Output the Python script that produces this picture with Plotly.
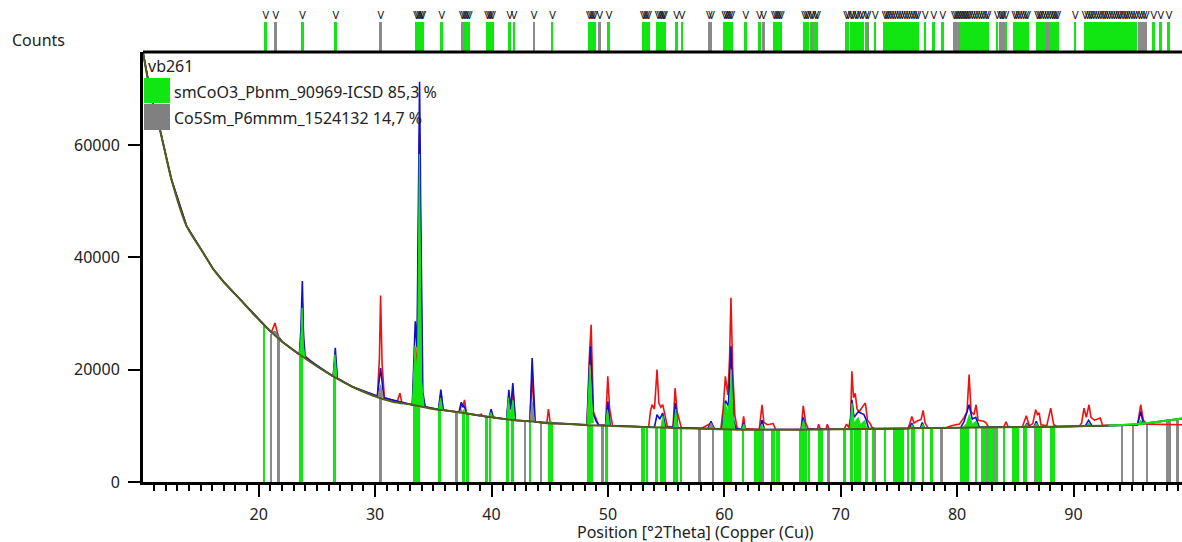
import plotly.graph_objects as go

# ---------------- data ----------------
# background curve
bg_x = [10.06, 10.2, 10.8, 11.5, 12.5, 13.8, 15.2, 16.1, 17.0, 18.4, 19.5, 20.7, 22.0, 23.5, 25.0,
        26.4, 28.0, 29.8, 31.5, 33.2, 35.0, 36.7, 38.5, 40.1, 42.0, 43.5, 45.0, 46.4, 48.0, 50.0,
        53.0, 56.1, 59.0, 61.9, 65.0, 68.0, 72.0, 76.0, 80.0, 84.0, 88.0, 91.0, 93.0, 95.0, 97.0, 99.32]
bg_y = [76500, 74800, 68300, 62900, 53900, 45600, 40900, 37900, 35600, 32500, 30000, 27450, 25000, 22700, 20600,
        18800, 17000, 15400, 14300, 13750, 13000, 12560, 12000, 11490, 11000, 10770, 10450, 10360, 10150, 10000,
        9800, 9590, 9450, 9290, 9300, 9350, 9450, 9550, 9650, 9750, 9850, 9950, 10050, 10250, 10650, 11300]

# observed counts (red)
obs_x = [10.06, 10.2, 10.8, 11.5, 12.5, 13.8, 15.2, 16.1, 17.0, 18.4, 19.5, 20.7, 21.1, 21.4, 21.7, 22.0,
         23.5, 23.65, 23.75, 23.9, 25.0, 26.4, 26.58, 26.75, 28.0, 29.8, 30.2, 30.37, 30.47, 30.6, 30.8,
         31.9, 32.13, 32.3, 33.2, 33.45, 33.6, 33.82, 34.05, 34.3, 35.45, 35.65, 35.85, 37.25, 37.45, 37.55,
         37.68, 37.85, 38.95, 39.11, 39.25, 39.8, 39.97, 40.15, 41.3, 41.49, 41.65, 41.83, 42.05, 43.3, 43.49,
         43.7, 44.75, 44.89, 45.05, 46.4, 48.2, 48.4, 48.56, 48.75, 49.0, 49.2, 49.8, 49.99, 50.15, 50.4,
         53.5, 53.65, 53.79, 54.0, 54.22, 54.38, 54.55, 54.71, 54.9, 55.1, 55.6, 55.77, 55.95, 56.3, 58.0,
         58.86, 59.2, 59.7, 59.9, 60.09, 60.3, 60.45, 60.57, 60.72, 60.9, 61.1, 61.5, 61.66, 61.8, 63.0,
         63.24, 63.4, 63.7, 64.2, 64.4, 66.6, 66.78, 67.0, 67.2, 68.0, 68.1, 68.25, 68.75, 68.85, 69.0,
         70.3, 70.5, 70.7, 70.85, 70.96, 71.1, 71.25, 71.4, 71.6, 71.9, 72.12, 72.3, 72.5, 72.7, 73.0,
         75.8, 76.11, 76.3, 76.6, 76.9, 77.08, 77.25, 77.5, 79.0, 79.5, 80.2, 80.6, 80.85, 81.03, 81.2,
         81.45, 81.63, 81.8, 82.3, 82.5, 82.7, 84.0, 84.2, 84.4, 85.6, 85.95, 86.2, 86.5, 86.75, 86.9,
         87.05, 87.2, 87.7, 88.04, 88.3, 88.6, 90.5, 90.7, 90.9, 91.1, 91.33, 91.5, 91.8, 92.3, 92.5,
         95.5, 95.77, 96.0, 96.3, 97.0, 99.32]
obs_y = [76500, 74800, 68300, 62900, 53900, 45600, 40900, 37900, 35600, 32500, 30000, 27450, 26700, 28300, 25800, 25000,
         22700, 26000, 32000, 22600, 20600, 18800, 22300, 18500, 17000, 15400, 15300, 22000, 33200, 21000, 15000,
         14300, 15800, 14100, 13750, 24000, 18000, 62000, 15000, 13400, 12900, 15900, 12800, 12400, 14000, 13500,
         14600, 12200, 11800, 12100, 11750, 11550, 12400, 11500, 11150, 15300, 12800, 16300, 11000, 10800, 19000,
         10700, 10450, 12980, 10400, 10360, 10200, 22000, 28000, 12500, 11000, 10150, 10100, 18800, 13000, 10050,
         9800, 12500, 13750, 13000, 20000, 14000, 13300, 13750, 12000, 9900, 9750, 16700, 12500, 9700, 9500,
         10500, 9450, 9450, 13000, 18800, 15500, 22000, 32800, 20000, 12000, 9600, 9350, 11670, 9500, 9350,
         13750, 10600, 10200, 10400, 9400, 9350, 13570, 10500, 9500, 9350, 10300, 9400, 9400, 10300, 9400,
         9400, 10300, 9700, 11500, 19700, 15000, 15800, 13000, 12500, 13500, 14050, 11000, 10500, 9700, 9450,
         9550, 11670, 10500, 10900, 11100, 12730, 10500, 9600, 9600, 10000, 10300, 11500, 12500, 19110, 12500,
         12000, 13750, 11000, 10800, 10500, 9750, 9750, 10700, 9750, 9800, 11790, 10000, 10400, 12860, 12000,
         12300, 10200, 10000, 13160, 10200, 9850, 9950, 10500, 13160, 11500, 13750, 11500, 11000, 11400, 10050,
         10150, 13750, 11000, 10300, 10250, 10200]

# calculated profile (blue)
calc_x = [10.06, 10.2, 10.8, 11.5, 12.5, 13.8, 15.2, 16.1, 17.0, 18.4, 19.5, 20.7, 21.1, 21.4, 21.7, 22.0,
          23.5, 23.62, 23.75, 23.85, 24.0, 26.4, 26.58, 26.75, 28.0, 30.2, 30.47, 30.75, 33.2, 33.45, 33.6,
          33.82, 33.92, 34.1, 34.3, 35.45, 35.65, 35.85, 37.2, 37.4, 37.55, 37.65, 37.85, 39.8, 39.97, 40.15,
          41.3, 41.49, 41.65, 41.83, 42.05, 43.3, 43.49, 43.75, 46.4, 48.2, 48.5, 48.75, 49.0, 49.2, 49.8,
          49.99, 50.2, 54.0, 54.22, 54.45, 54.71, 54.95, 55.6, 55.8, 56.0, 58.6, 58.86, 59.1, 59.8, 60.1,
          60.35, 60.57, 60.8, 61.0, 61.5, 61.66, 61.8, 63.05, 63.24, 63.45, 66.6, 66.78, 67.0, 70.8, 70.96,
          71.15, 71.5, 72.0, 72.2, 72.4, 75.9, 76.1, 76.3, 76.85, 77.0, 77.2, 80.3, 80.6, 81.03, 81.3,
          81.6, 81.9, 85.8, 86.0, 86.2, 86.6, 86.8, 87.0, 91.0, 91.3, 91.6, 95.5, 95.77, 96.0, 97.0, 99.32]
calc_y = [76500, 74800, 68300, 62900, 53900, 45600, 40900, 37900, 35600, 32500, 30000, 27450, 26600, 26700, 25800, 25000,
          22700, 27000, 35770, 26000, 22200, 18800, 23870, 18500, 17000, 15300, 20300, 15000, 13750, 28600, 24000,
          71250, 48000, 16000, 13400, 12900, 16430, 12800, 12400, 14200, 13300, 13600, 12200, 11550, 12980, 11500,
          11150, 16430, 13000, 17630, 11000, 10800, 22090, 10700, 10360, 10200, 24160, 12000, 10800, 10150, 10100,
          14340, 10050, 9750, 12000, 11200, 12270, 9800, 9750, 14050, 9700, 9500, 10800, 9450, 9450, 14500,
          13500, 24160, 11000, 9500, 9350, 10500, 9350, 9350, 11000, 9400, 9350, 11500, 9400, 9400, 14640,
          11500, 12500, 12000, 11000, 9500, 9550, 10500, 9600, 9600, 10600, 9600, 9650, 10800, 13750, 11200,
          11500, 9800, 9800, 10400, 9800, 9800, 10800, 9800, 9950, 11000, 9950, 10150, 12560, 10350, 10650, 11300]

# phase 1 (smCoO3) profile above background, peaks separated by None
ph1_x = [23.5, 23.62, 23.73, 23.85, 24.0, None,
         26.4, 26.55, 26.72, None,
         33.2, 33.42, 33.55, 33.66, 33.8, 33.88, 34.0, 34.2, None,
         35.45, 35.62, 35.8, None,
         37.5, 37.62, 37.75, 37.9, 38.05, None,
         39.8, 39.95, 40.1, None,
         41.3, 41.45, 41.6, 41.85, 42.0, None,
         44.95, 45.1, 45.25, None,
         48.2, 48.3, 48.45, 48.6, 48.75, None,
         49.8, 49.95, 50.15, None,
         54.55, 54.72, 54.9, None,
         55.65, 55.82, 56.0, None,
         59.85, 60.05, 60.3, 60.5, 60.6, 60.75, 60.9, None,
         61.5, 61.68, 61.85, None,
         63.05, 63.2, 63.35, None,
         66.6, 66.8, 67.0, None,
         70.8, 70.96, 71.15, 71.5, 71.7, 72.05, 72.25, None,
         76.0, 76.12, 76.3, None,
         76.9, 77.05, 77.2, None,
         80.5, 80.8, 81.05, 81.3, 81.6, 81.85, None,
         85.85, 86.0, 86.15, None,
         86.6, 86.8, 87.0, None,
         91.1, 91.3, 91.5, None,
         95.55, 95.77, 96.0]
ph1_y = [22700, 25500, 31010, 24000, 22200, None,
         18800, 22680, 18550, None,
         13750, 24160, 20000, 24000, 58400, 40000, 18000, 13450, None,
         12900, 14950, 12850, None,
         12200, 12900, 12300, 12500, 12100, None,
         11550, 12400, 11500, None,
         11150, 15000, 12000, 14500, 11000, None,
         10450, 10900, 10400, None,
         10200, 14000, 20890, 15000, 10500, None,
         10100, 12860, 10050, None,
         9750, 11800, 9700, None,
         9700, 13000, 9650, None,
         9450, 14050, 12500, 15000, 20000, 12000, 9400, None,
         9350, 10300, 9350, None,
         9350, 10300, 9350, None,
         9350, 11000, 9350, None,
         9400, 14000, 10500, 11500, 10200, 11000, 9450, None,
         9550, 10200, 9550, None,
         9550, 10300, 9550, None,
         9650, 10400, 12000, 10300, 10800, 9700, None,
         9800, 10300, 9800, None,
         9800, 10500, 9800, None,
         9950, 10500, 9950, None,
         10200, 11000, 10350]

# phase 2 (Co5Sm) profile above background
ph2_x = [21.0, 21.25, 21.45, 21.65, 21.8, None,
         30.25, 30.47, 30.7, None,
         37.2, 37.4, 37.6, None,
         43.3, 43.49, 43.7, None,
         58.65, 58.86, 59.1, None,
         63.2, 63.38, 63.55]
ph2_y = [26800, 26700, 26600, 26000, 25600, None,
         15250, 17300, 15050, None,
         12400, 12900, 12200, None,
         10800, 14300, 10700, None,
         9500, 10500, 9450, None,
         9300, 9800, 9300]

# reflection sticks (bottom): positions and heights
stick1_pos = [20.46, 23.60, 23.72, 26.52, 33.39, 33.53, 33.76, 35.54, 37.62, 37.97, 39.60, 39.91, 41.40, 41.83,
              43.35, 44.98, 45.18, 48.35, 48.47, 48.64, 49.90, 52.94, 53.13, 53.37, 54.19, 54.57, 54.76, 54.88,
              55.71, 55.91, 56.28, 60.00, 60.15, 60.37, 60.58, 61.63, 62.66, 62.86, 63.00, 63.15, 64.12, 64.29,
              64.55, 64.72, 66.58, 66.78, 67.01, 67.30, 68.15, 68.39, 70.36, 70.96, 71.30, 71.50, 71.64, 72.22,
              72.79, 73.82, 74.59, 74.74, 74.88, 75.02, 75.17, 75.39, 75.82, 76.16, 76.31, 77.08, 77.83, 80.40,
              80.60, 80.80, 80.97, 81.63, 82.20, 82.38, 82.75, 82.98, 83.41, 84.04, 84.81, 85.04, 85.24, 85.75,
              85.95, 86.84, 87.04, 87.24, 88.12, 88.33]
stick1_top = [27850, 22500, 22350, 18650, 13650, 13600, 13500, 12850, 12200, 12100, 11600, 11500, 11150, 11050,
              10750, 10450, 10450, 10150, 10150, 10100, 10000, 9800, 9800, 9800, 9750, 9750, 9700, 9700,
              9650, 9650, 9600, 9400, 9400, 9400, 9400, 9300, 9300, 9300, 9300, 9300, 9300, 9300,
              9300, 9300, 9300, 9300, 9300, 9300, 9350, 9350, 9400, 9400, 9400, 9400, 9400, 9450,
              9450, 9500, 9500, 9500, 9500, 9500, 9500, 9500, 9550, 9550, 9550, 9550, 9600, 9650,
              9650, 9650, 9650, 9650, 9700, 9700, 9700, 9700, 9700, 9750, 9750, 9750, 9750, 9750,
              9750, 9800, 9800, 9800, 9850, 9850]
stick2_pos = [21.09, 21.72, 30.47, 37.02, 42.92, 44.27, 49.55, 57.91, 59.06, 63.35, 68.96, 72.96, 78.69, 82.60,
              83.18, 86.70, 94.19, 95.13, 96.33, 98.05, 98.28, 98.97]
stick2_top = [26300, 25700, 15250, 12400, 10800, 10550, 10050, 9500, 9450, 9300, 9400, 9450, 9600, 9700,
              9700, 9800, 9950, 10180, 10480, 10770, 10850, 10950]

# reference marks in the top strip
strip1_pos = [20.6, 23.77, 26.63, 33.55, 33.7, 33.85, 34.0, 34.1, 35.72, 37.65, 37.8, 37.95, 38.1, 39.65, 39.8,
              39.95, 40.1, 41.57, 41.94, 45.24, 48.4, 48.55, 48.7, 48.85, 50.09, 53.05, 53.2, 53.35, 53.5, 54.3,
              54.45, 54.6, 54.75, 54.87, 55.9, 56.37, 60.05, 60.2, 60.35, 60.5, 60.65, 61.84, 63.03, 64.3, 64.45,
              64.6, 64.75, 64.9, 66.9, 67.05, 67.2, 67.45, 67.85, 68.0, 70.5, 70.65, 70.9, 71.05, 71.3,
              71.45, 71.7, 71.9, 72.2, 72.97, 73.8, 73.95, 74.1, 74.3, 74.5, 74.7, 74.9, 75.1, 75.3, 75.5,
              75.7, 75.9, 76.1, 76.3, 76.5, 76.65, 77.27, 77.99, 78.76, 79.75, 80.05, 80.35, 80.5, 80.65, 80.8,
              80.95, 81.1, 81.3, 81.5, 81.7, 81.9, 82.1, 82.3, 82.5, 82.65, 83.45, 84.2, 84.95, 85.1, 85.3,
              85.5, 85.7, 85.9, 86.05, 86.9, 87.05, 87.2, 87.4, 87.6, 88.0, 88.2, 88.35, 88.5, 88.65, 90.16,
              91.0, 91.2, 91.4, 91.55, 91.75, 91.95, 92.15, 92.35, 92.55, 92.7, 92.9, 93.1, 93.3, 93.5, 93.7,
              93.9, 94.05, 94.25, 94.45, 94.6, 94.8, 95.0, 95.2, 95.4, 96.9, 97.5, 98.2]
strip2_pos = [21.46, 30.49, 37.49, 43.66, 49.3, 58.7, 58.9, 63.38, 67.6, 72.35, 79.9, 80.2, 83.7, 83.85, 84.0,
              87.8, 95.65, 95.85, 96.05, 96.25]

# legend / labels
sample_name = "vb261"
phase_names = ["smCoO3_Pbnm_90969-ICSD 85,3 %", "Co5Sm_P6mmm_1524132 14,7 %"]
x_title = "Position [°2Theta] (Copper (Cu))"
y_title = "Counts"

# ---------------- styling ----------------
GREEN = "#12e612"
GRAY = "#8a8a8a"
RED = "#ee1111"
BLUE = "#1010c8"
OLIVE = "#4f6018"
FONT = "Noto Sans"

fig = go.Figure()

# bottom sticks
fig.add_trace(go.Bar(x=stick2_pos, y=stick2_top, width=0.17, marker=dict(color=GRAY, line=dict(width=0)),
                     showlegend=False))
fig.add_trace(go.Bar(x=stick1_pos, y=stick1_top, width=0.17, marker=dict(color=GREEN, line=dict(width=0)),
                     showlegend=False))

# top strip marks
fig.add_trace(go.Bar(x=strip1_pos, y=[29] * len(strip1_pos), base=1, width=0.17, yaxis="y2",
                     marker=dict(color=GREEN, line=dict(width=0)), showlegend=False))
fig.add_trace(go.Bar(x=strip2_pos, y=[29] * len(strip2_pos), base=1, width=0.17, yaxis="y2",
                     marker=dict(color=GRAY, line=dict(width=0)), showlegend=False))
vpos = strip1_pos + strip2_pos
fig.add_trace(go.Scatter(x=vpos, y=[36] * len(vpos), yaxis="y2", mode="text", text=["V"] * len(vpos),
                         textfont=dict(family=FONT, size=11, color="#111111"), showlegend=False,
                         cliponaxis=False))

# profiles
fig.add_trace(go.Scatter(x=obs_x, y=obs_y, mode="lines", line=dict(color=RED, width=1.6), showlegend=False))
fig.add_trace(go.Scatter(x=calc_x, y=calc_y, mode="lines", line=dict(color=BLUE, width=1.6), showlegend=False))
fig.add_trace(go.Scatter(x=ph2_x, y=ph2_y, mode="lines", fill="toself", fillcolor=GRAY,
                         line=dict(color=GRAY, width=1), showlegend=False))
fig.add_trace(go.Scatter(x=ph1_x, y=ph1_y, mode="lines", fill="toself", fillcolor=GREEN,
                         line=dict(color=GREEN, width=1), showlegend=False))
fig.add_trace(go.Scatter(x=bg_x, y=bg_y, mode="lines", line=dict(color=OLIVE, width=2, shape="spline",
                                                                 smoothing=0.8), showlegend=False))
tail_x = [x for x in bg_x if x >= 93]
tail_y = [y for x, y in zip(bg_x, bg_y) if x >= 93]
fig.add_trace(go.Scatter(x=tail_x, y=tail_y, mode="lines", line=dict(color=GREEN, width=2, shape="spline"),
                         showlegend=False))

H_PLOT = 482.0
TOP_FRAME = (482 - 52) / H_PLOT
W_PLOT = 1039.0


def px_x(px):
    return (px - 143) / W_PLOT


def px_y(py):
    return (482 - py) / H_PLOT


fig.update_layout(
    width=1182, height=542,
    margin=dict(l=143, r=0, t=0, b=60),
    paper_bgcolor="white", plot_bgcolor="white",
    barmode="overlay", bargap=0,
    font=dict(family=FONT, size=16, color="#222222"),
    xaxis=dict(range=[10.06, 99.32], showgrid=False, zeroline=False,
               showline=True, linecolor="black", linewidth=3,
               ticks="outside", tickmode="linear", tick0=0, dtick=10, ticklen=12, tickwidth=2,
               tickcolor="black", ticklabelstandoff=4,
               minor=dict(dtick=1, tick0=0, ticks="outside", ticklen=6, tickwidth=2, tickcolor="black"),
               tickfont=dict(family=FONT, size=16, color="#222222")),
    yaxis=dict(domain=[0, TOP_FRAME], range=[0, 76550], showgrid=False, zeroline=False,
               showline=True, linecolor="black", linewidth=3,
               ticks="outside", tickmode="linear", tick0=0, dtick=20000, ticklen=12, tickwidth=2,
               tickcolor="black", ticklabelstandoff=5, tickformat="d",
               tickfont=dict(family=FONT, size=16, color="#222222")),
    yaxis2=dict(domain=[TOP_FRAME, 1], range=[0, 52], visible=False, fixedrange=True),
    shapes=[
        dict(type="line", xref="paper", yref="paper", x0=0, x1=1, y0=TOP_FRAME, y1=TOP_FRAME,
             line=dict(color="black", width=3)),
        dict(type="rect", xref="paper", yref="paper", x0=px_x(144), x1=px_x(170), y0=px_y(103), y1=px_y(78),
             fillcolor=GREEN, line=dict(width=0)),
        dict(type="rect", xref="paper", yref="paper", x0=px_x(144), x1=px_x(170), y0=px_y(130), y1=px_y(104),
             fillcolor="#808080", line=dict(width=0)),
    ],
    annotations=[
        dict(text=sample_name, xref="paper", yref="paper", x=px_x(146), y=px_y(66), xanchor="left",
             yanchor="middle", showarrow=False, font=dict(family=FONT, size=16, color="#222222")),
        dict(text=phase_names[0], xref="paper", yref="paper", x=px_x(172), y=px_y(92), xanchor="left",
             yanchor="middle", showarrow=False, font=dict(family=FONT, size=16, color="#222222")),
        dict(text=phase_names[1], xref="paper", yref="paper", x=px_x(172), y=px_y(118), xanchor="left",
             yanchor="middle", showarrow=False, font=dict(family=FONT, size=16, color="#222222")),
        dict(text=y_title, xref="paper", yref="paper", x=px_x(10), y=px_y(40), xanchor="left",
             yanchor="middle", showarrow=False, font=dict(family=FONT, size=16, color="#222222")),
        dict(text=x_title, xref="paper", yref="paper", x=px_x(695), y=px_y(532), xanchor="center",
             yanchor="middle", showarrow=False, font=dict(family=FONT, size=16, color="#222222")),
    ],
)

fig.write_html("out.html", config={"displayModeBar": False},
               post_script="document.body.style.margin='0';document.body.style.overflow='hidden';")
